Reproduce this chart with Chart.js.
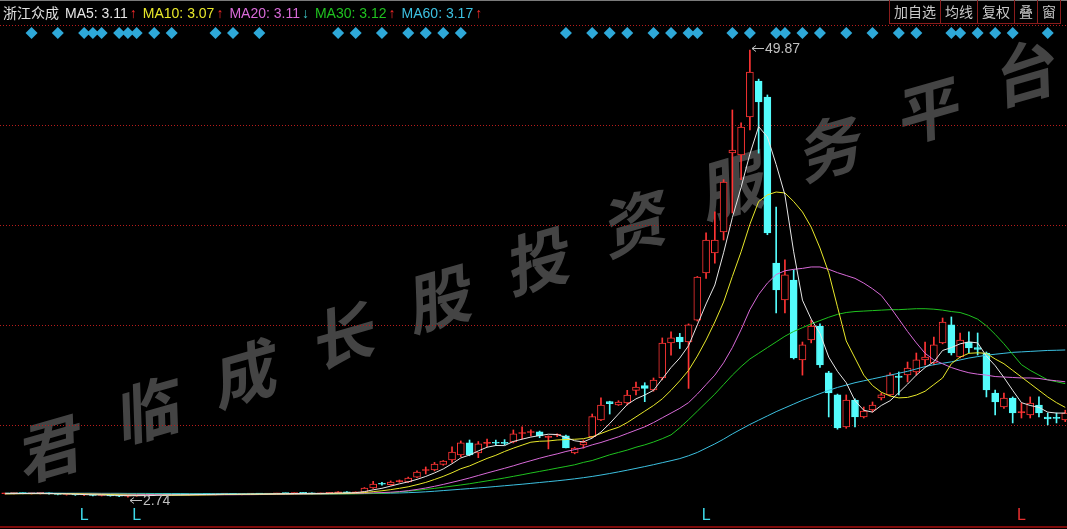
<!DOCTYPE html>
<html>
<head>
<meta charset="utf-8">
<script src="https://cdn.jsdelivr.net/npm/chart.js@4.4.0/dist/chart.umd.min.js"></script>
<style>
html,body{margin:0;padding:0;background:#000;width:1067px;height:529px;overflow:hidden;}
#wrap{position:relative;width:1067px;height:529px;overflow:hidden;}
#wm{position:absolute;left:0;top:0;width:1067px;height:529px;z-index:0;}
#wm span{position:absolute;font-family:"Noto Sans CJK SC";font-weight:600;font-size:64px;line-height:64px;color:#444444;transform:rotate(-16deg) skewX(-14deg);}
#c{position:absolute;left:0;top:0;z-index:1;}
#topline{position:absolute;left:0;top:0;width:1067px;height:1px;background:#7a7a7a;z-index:3;}
#hdr{position:absolute;left:3px;top:3px;z-index:3;font-family:"Liberation Sans","Noto Sans CJK SC",sans-serif;font-size:14px;line-height:18px;white-space:nowrap;}
#hdr .nm{font-family:"Noto Sans CJK SC";color:#e0e0e0;margin-right:6px;}
#hdr .ar{margin-left:2px;margin-right:6px;}
#btns{position:absolute;left:889px;top:0;height:24px;z-index:3;display:flex;}
#btns div{height:23px;border:1px solid #8a1c1c;border-top:none;color:#c8c8c8;font-family:"Noto Sans CJK SC";font-size:14px;line-height:23px;padding:0 4px;margin-right:-1px;}
#bottomline{position:absolute;left:0;top:526px;width:1067px;height:2px;background:#7d0a0a;z-index:2;}
</style>
</head>
<body>
<div id="wrap">
  <div id="wm"></div>
  <canvas id="c" width="1067" height="529"></canvas>
  <div id="topline"></div>
  <div id="hdr"></div>
  <div id="btns"></div>
  <div id="bottomline"></div>
</div>
<script>
// ---------------- data ----------------
const stockName = "浙江众成";
const maNames = ["MA5", "MA10", "MA20", "MA30", "MA60"];
const maHeaderValues = ["3.11", "3.07", "3.11", "3.12", "3.17"];
const maHeaderTrend = ["↑", "↑", "↓", "↑", "↑"];
const toolButtons = ["加自选", "均线", "复权", "叠", "窗"];
const watermarkText = "君临成长股投资服务平台";

const opens = [3.10,3.13,3.15,3.12,3.14,3.16,3.08,3.02,3.05,2.96,2.99,2.92,2.95,2.88,2.84,2.86,2.93,2.97,2.94,2.98,
3.01,2.99,3.02,3.06,3.03,3.05,3.08,3.04,3.06,3.09,3.07,3.10,3.13,3.11,3.17,3.14,3.09,3.15,3.19,3.28,
3.18,3.25,3.70,4.16,4.05,4.38,4.33,4.85,5.55,5.60,6.20,6.66,7.18,8.45,7.39,8.40,8.50,8.46,8.55,9.45,
9.55,9.61,9.03,9.26,9.19,7.39,8.24,9.11,10.87,12.80,12.45,12.66,14.00,14.50,14.03,15.30,18.99,19.62,19.10,21.40,
26.37,28.47,30.69,39.01,38.80,42.81,46.60,44.92,27.42,23.52,25.63,17.20,19.30,20.78,15.83,13.51,10.13,12.98,11.19,11.93,
13.19,13.51,15.50,15.62,15.93,17.20,16.88,19.00,20.89,17.51,19.09,18.50,17.93,13.72,12.24,13.19,11.65,11.40,12.45,11.19,
11.12,10.87];
const highs = [3.16,3.18,3.20,3.17,3.19,3.20,3.12,3.08,3.08,3.02,3.02,2.98,2.98,2.93,2.90,2.95,3.00,3.02,3.00,3.03,
3.06,3.04,3.08,3.10,3.07,3.10,3.12,3.08,3.11,3.14,3.12,3.15,3.18,3.20,3.22,3.19,3.18,3.22,3.32,3.32,
3.30,3.75,4.40,4.30,4.45,4.55,4.85,5.50,5.92,6.40,6.60,8.03,8.66,8.76,8.60,8.87,8.75,8.80,9.82,10.14,
9.82,9.70,9.20,9.40,9.29,8.00,8.76,11.50,13.20,12.85,12.90,14.00,14.87,14.80,15.30,19.52,20.15,20.00,21.00,26.00,
30.60,32.80,36.20,43.55,42.20,49.87,46.80,45.13,33.32,27.74,26.70,19.09,21.40,21.00,16.00,13.60,13.51,13.10,12.24,12.77,
13.72,15.83,15.93,16.98,17.93,19.09,19.62,21.62,21.73,20.04,20.15,20.04,18.04,14.03,13.72,13.30,12.66,13.30,13.30,11.61,
11.61,11.90];
const lows = [3.05,3.08,3.09,3.06,3.07,3.05,2.98,2.95,2.93,2.90,2.88,2.86,2.84,2.80,2.74,2.83,2.89,2.92,2.90,2.93,
2.96,2.94,2.98,3.00,2.97,3.00,3.02,2.98,3.01,3.04,3.02,3.05,3.08,3.07,3.10,3.06,3.05,3.10,3.15,3.12,
3.14,3.22,3.65,4.00,4.00,4.30,4.28,4.80,5.18,5.50,6.10,6.40,7.00,7.10,6.90,8.03,8.20,8.25,8.45,8.87,
9.19,9.00,7.82,9.10,7.92,7.30,7.90,9.00,10.80,11.50,12.40,12.45,13.50,12.80,13.90,15.10,17.70,18.40,14.20,21.30,
25.80,27.40,29.84,32.69,36.20,41.44,39.00,30.40,22.15,22.15,17.30,15.60,19.00,16.40,11.19,9.90,10.00,10.13,11.08,11.72,
12.98,13.40,13.51,14.88,15.62,16.67,16.67,18.90,17.72,17.40,17.93,17.72,13.30,11.40,12.10,10.56,11.08,11.08,11.19,10.35,
10.56,10.70];
const closes = [3.13,3.15,3.12,3.14,3.16,3.08,3.02,3.05,2.96,2.99,2.92,2.95,2.88,2.84,2.86,2.93,2.97,2.94,2.98,3.01,
2.99,3.02,3.06,3.03,3.05,3.08,3.04,3.06,3.09,3.07,3.10,3.13,3.11,3.17,3.14,3.09,3.15,3.19,3.28,3.18,
3.25,3.70,4.12,4.10,4.33,4.44,4.75,5.39,5.62,6.23,6.55,7.50,8.45,7.18,8.35,8.50,8.42,8.40,9.40,9.52,
9.62,9.19,9.10,9.29,7.92,7.92,8.55,11.22,12.45,12.60,12.77,13.50,14.35,14.20,15.09,18.99,19.52,19.10,20.90,25.94,
29.84,29.84,35.96,39.33,41.75,47.55,44.39,30.58,24.57,26.16,17.41,18.78,20.78,16.67,13.72,10.03,12.98,11.19,11.82,12.45,
13.51,15.62,15.35,16.35,17.20,17.51,18.78,21.20,17.93,19.30,18.46,18.30,14.03,12.77,13.19,11.61,11.75,12.66,11.61,10.98,
11.04,11.61];

const ma5 = [3.10,3.11,3.12,3.13,3.14,3.13,3.10,3.09,3.05,3.01,2.98,2.97,2.94,2.92,2.89,2.89,2.90,2.91,2.94,2.97,
2.98,2.99,3.01,3.02,3.03,3.05,3.05,3.05,3.06,3.07,3.07,3.09,3.10,3.12,3.13,3.13,3.13,3.15,3.17,3.18,
3.21,3.32,3.51,3.67,3.90,4.14,4.35,4.61,4.92,5.29,5.71,6.26,6.87,7.18,7.61,8.00,8.18,8.17,8.61,8.85,
9.07,9.23,9.37,9.34,9.02,8.68,8.56,8.96,9.60,10.50,11.50,12.50,13.10,13.50,14.00,15.20,16.40,17.40,18.70,20.90,
23.10,25.10,28.50,32.20,35.40,38.90,41.80,40.70,37.80,34.60,28.60,23.50,21.50,20.00,17.50,16.00,14.80,12.90,11.90,11.70,
12.40,12.90,13.75,14.65,15.60,16.40,17.00,18.20,18.50,18.90,19.10,19.00,17.60,16.60,15.35,14.00,12.70,12.40,12.20,11.70,
11.60,11.60];
const ma10 = [3.08,3.09,3.10,3.10,3.11,3.11,3.11,3.10,3.09,3.07,3.05,3.03,3.01,2.98,2.95,2.93,2.93,2.93,2.93,2.93,
2.94,2.95,2.96,2.97,2.99,3.01,3.02,3.03,3.04,3.05,3.06,3.07,3.08,3.09,3.10,3.10,3.11,3.12,3.14,3.15,
3.17,3.22,3.32,3.41,3.53,3.67,3.83,4.05,4.29,4.60,4.93,5.31,5.73,6.03,6.43,6.82,7.15,7.55,7.90,8.22,
8.53,8.63,8.66,8.76,8.81,8.84,8.90,9.10,9.45,9.80,10.10,10.60,11.20,11.80,12.40,13.10,14.00,15.00,16.10,17.60,
19.30,21.20,23.30,26.00,28.60,31.50,33.90,34.60,34.90,34.80,33.90,32.80,31.20,29.00,26.40,22.80,19.20,17.40,15.60,14.50,
13.80,13.40,13.20,13.25,13.50,13.90,14.60,15.30,16.80,17.50,17.90,17.95,17.90,17.30,16.80,16.10,15.40,14.70,14.00,13.30,
12.70,12.20];
const ma20 = [3.12,3.12,3.12,3.12,3.11,3.11,3.11,3.10,3.10,3.09,3.08,3.07,3.06,3.05,3.04,3.03,3.02,3.01,3.00,2.99,
2.99,2.99,2.99,2.99,2.99,2.99,2.99,3.00,3.00,3.01,3.02,3.03,3.04,3.05,3.06,3.07,3.08,3.09,3.10,3.11,
3.13,3.15,3.19,3.22,3.26,3.32,3.42,3.55,3.70,3.88,4.08,4.30,4.52,4.76,5.02,5.28,5.53,5.78,6.04,6.32,
6.58,6.84,7.08,7.30,7.55,7.75,7.95,8.25,8.50,8.80,9.10,9.45,9.80,10.15,10.60,11.10,11.60,12.10,12.70,13.60,
14.60,15.60,16.90,18.50,20.40,22.50,24.10,25.30,26.20,26.60,26.75,26.85,27.00,27.00,26.75,26.40,26.10,25.80,25.30,24.70,
24.00,22.80,21.50,20.20,19.00,17.90,17.20,16.80,16.40,16.10,15.85,15.70,15.60,15.45,15.40,15.35,15.30,15.30,15.25,15.10,
15.00,14.90];
const ma30 = [3.13,3.13,3.13,3.12,3.12,3.12,3.11,3.11,3.10,3.10,3.09,3.08,3.08,3.07,3.06,3.05,3.05,3.04,3.04,3.03,
3.03,3.03,3.03,3.03,3.03,3.03,3.03,3.03,3.03,3.03,3.03,3.03,3.04,3.04,3.05,3.05,3.06,3.06,3.07,3.08,
3.09,3.10,3.12,3.15,3.20,3.28,3.37,3.46,3.56,3.66,3.78,3.90,4.02,4.15,4.30,4.45,4.60,4.76,4.93,5.10,
5.28,5.45,5.62,5.80,5.97,6.15,6.40,6.60,6.90,7.20,7.45,7.70,8.00,8.25,8.55,8.90,9.30,10.05,10.90,11.80,
12.70,13.60,14.60,15.60,16.50,17.30,17.90,18.50,19.10,19.70,20.20,20.60,21.00,21.35,21.70,22.00,22.20,22.30,22.35,22.40,
22.45,22.50,22.50,22.55,22.60,22.60,22.55,22.45,22.30,22.20,21.90,21.50,20.80,19.90,18.90,17.80,16.70,16.10,15.60,15.10,
14.90,14.70];
const ma60 = [3.16,3.16,3.16,3.16,3.16,3.16,3.16,3.15,3.15,3.15,3.15,3.14,3.14,3.14,3.13,3.13,3.13,3.12,3.12,3.12,
3.12,3.11,3.11,3.11,3.11,3.11,3.10,3.10,3.10,3.10,3.10,3.10,3.10,3.10,3.10,3.10,3.10,3.10,3.11,3.11,
3.11,3.12,3.13,3.14,3.16,3.18,3.21,3.25,3.30,3.36,3.43,3.50,3.57,3.64,3.71,3.78,3.86,3.94,4.02,4.10,
4.19,4.28,4.37,4.46,4.56,4.67,4.79,4.92,5.07,5.23,5.40,5.58,5.77,5.96,6.16,6.37,6.58,6.80,7.10,7.45,
7.90,8.35,8.85,9.40,9.90,10.40,10.85,11.30,11.75,12.15,12.55,12.95,13.30,13.65,14.00,14.30,14.55,14.80,15.00,15.20,
15.40,15.60,15.80,16.00,16.25,16.50,16.70,16.85,17.00,17.20,17.40,17.55,17.70,17.80,17.90,18.00,18.05,18.10,18.15,18.20,
18.22,18.25];

// day indices carrying the blue diamond signal in the top strip
const signalDays = [3,6,9,10,11,13,14,15,17,19,24,26,29,38,40,43,46,48,50,52,64,67,69,71,74,76,78,79,83,85,88,89,91,93,96,99,102,104,108,109,111,113,115,119];
// "L" markers under the chart
const lMarksCyan = [9,15,80];
const lMarksRed = [116];

// price-axis window and horizontal grid levels
const Y_MIN = -0.62, Y_MAX = 55.14;
const gridLevels = [52.40, 41.86, 31.32, 20.78, 10.24];
const SIGNAL_LEVEL = 51.66;   // top strip for diamonds
const MARK_LEVEL = 0.80;      // bottom strip for "L" marks
const X_MIN = -0.6, X_MAX = 121.2;

// ---------------- static text ----------------
const maColors = ["#e6e6e6", "#e8e82a", "#d86ad8", "#1fc21f", "#3cc0e0"];
const trendColors = {"↑": "#ff2a2a", "↓": "#3ac0c0"};
const hdr = document.getElementById('hdr');
let h = '<span class="nm">' + stockName + '</span>';
maNames.forEach((n, k) => {
  h += '<span style="color:' + maColors[k] + '">' + n + ': ' + maHeaderValues[k] + '</span>' +
       '<span class="ar" style="color:' + trendColors[maHeaderTrend[k]] + '">' + maHeaderTrend[k] + '</span>';
});
hdr.innerHTML = h;
const btns = document.getElementById('btns');
toolButtons.forEach(t => { const d = document.createElement('div'); d.textContent = t; btns.appendChild(d); });
const wm = document.getElementById('wm');
[...watermarkText].forEach((ch, k) => {
  const s = document.createElement('span');
  s.textContent = ch;
  s.style.left = (20 + k * 97.5) + 'px';
  s.style.top = (412 - k * 37.6) + 'px';
  wm.appendChild(s);
});

// ---------------- chart ----------------
const RED = '#ff3434', CYAN = '#54fcfc';
const isUp = i => closes[i] >= opens[i];
const days = closes.map((_, i) => i);
const bodies = days.map(i => ({x: i, y: [opens[i], closes[i]]}));
const wicks = days.map(i => ({x: i, y: [lows[i], highs[i]]}));
const maSeries = [ma5, ma10, ma20, ma30, ma60];
const lineSets = maSeries.map((arr, k) => ({
  type: 'line', label: maNames[k], data: arr.map((v, i) => ({x: i, y: v})),
  borderColor: maColors[k], borderWidth: 1, pointRadius: 0, tension: 0, order: 0
}));

const annot = {
  id: 'annot',
  afterDatasetsDraw(chart) {
    const {ctx, scales: {x, y}} = chart;
    let hi = 0, lo = 0;
    highs.forEach((v, i) => { if (v > highs[hi]) hi = i; });
    lows.forEach((v, i) => { if (v < lows[lo]) lo = i; });
    ctx.save();
    ctx.strokeStyle = '#c0c0c0'; ctx.fillStyle = '#c0c0c0'; ctx.lineWidth = 1;
    ctx.font = '14px "Liberation Sans"'; ctx.textBaseline = 'middle';
    const arrow = (px, py, len) => {
      ctx.beginPath();
      ctx.moveTo(px + 2, py + 0.5); ctx.lineTo(px + len, py + 0.5);
      ctx.moveTo(px + 2, py + 0.5); ctx.lineTo(px + 6, py - 2.5);
      ctx.moveTo(px + 2, py + 0.5); ctx.lineTo(px + 6, py + 3.5);
      ctx.stroke();
    };
    let px = Math.round(x.getPixelForValue(hi)), py = Math.round(y.getPixelForValue(highs[hi])) - 2;
    arrow(px, py, 14); ctx.fillText(highs[hi].toFixed(2), px + 15, py + 1);
    px = Math.round(x.getPixelForValue(lo)); py = Math.round(y.getPixelForValue(lows[lo])) + 3;
    arrow(px, py, 14); ctx.fillText(lows[lo].toFixed(2), px + 15, py + 1);
    ctx.font = '16px "Liberation Sans"'; ctx.textAlign = 'center';
    const my = y.getPixelForValue(MARK_LEVEL);
    ctx.fillStyle = '#3ed8e8';
    lMarksCyan.forEach(d => ctx.fillText('L', x.getPixelForValue(d), my));
    ctx.fillStyle = '#e83030';
    lMarksRed.forEach(d => ctx.fillText('L', x.getPixelForValue(d), my));
    ctx.restore();
  }
};

new Chart(document.getElementById('c'), {
  type: 'bar',
  data: {
    datasets: [
      ...lineSets,
      { type: 'scatter', label: 'signal', data: signalDays.map(d => ({x: d, y: SIGNAL_LEVEL})),
        pointStyle: 'rectRot', pointRadius: 6, pointBackgroundColor: '#2ea8d8', pointBorderWidth: 0,
        borderWidth: 0, order: 0 },
      { type: 'bar', label: 'body', data: bodies, grouped: false, barThickness: 7, minBarLength: 1,
        borderSkipped: false, borderWidth: 1,
        borderColor: c => isUp(c.dataIndex) ? RED : CYAN,
        backgroundColor: c => { const i = c.dataIndex; return isUp(i) ? (Math.abs(closes[i] - opens[i]) < 0.2 ? RED : '#000') : CYAN; },
        order: 1 },
      { type: 'bar', label: 'wick', data: wicks, grouped: false, barThickness: 1, borderWidth: 0,
        backgroundColor: c => isUp(c.dataIndex) ? RED : CYAN, order: 2 }
    ]
  },
  options: {
    responsive: false, animation: false, events: [],
    layout: { padding: 0, autoPadding: false },
    plugins: { legend: { display: false }, tooltip: { enabled: false } },
    scales: {
      x: { type: 'linear', min: X_MIN, max: X_MAX, display: false, offset: false },
      y: { type: 'linear', min: Y_MIN, max: Y_MAX, display: true, position: 'left',
           ticks: { display: false },
           grid: { drawTicks: false, color: '#b81c1c', lineWidth: 1 },
           border: { display: false, dash: [1, 2] },
           afterBuildTicks: s => { s.ticks = gridLevels.map(v => ({ value: v })); } }
    }
  },
  plugins: [annot]
});
</script>
</body>
</html>
